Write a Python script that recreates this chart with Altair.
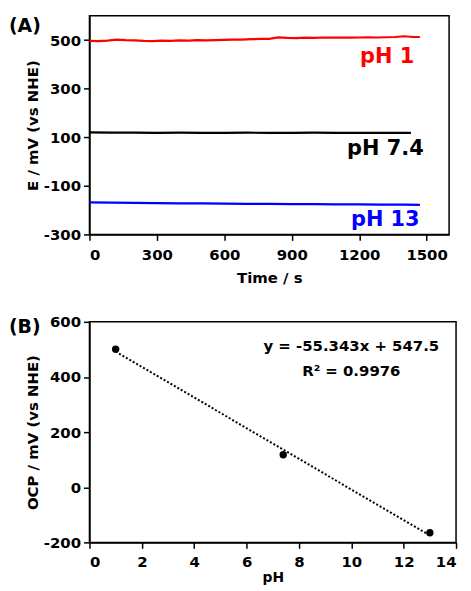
import altair as alt
import pandas as pd

# ---------- Panel A data (OCP vs time) ----------
series_names = ["pH 1", "pH 7.4", "pH 13"]
series_colors = ["#ff0000", "#000000", "#0000ff"]

red_time = [0, 40, 80, 120, 160, 200, 240, 280, 320, 360, 400, 440, 480, 520, 560, 600,
            640, 680, 720, 760, 800, 840, 880, 920, 960, 1000, 1040, 1080, 1120, 1160,
            1200, 1240, 1280, 1320, 1360, 1400, 1440, 1470]
red_E = [497, 496, 498, 502, 500, 499, 497, 496, 498, 497, 499, 498, 500, 499, 500, 501,
         502, 502, 504, 505, 505, 511, 509, 508, 510, 509, 511, 510, 511, 510,
         511, 512, 511, 512, 513, 516, 513, 513]

black_time = [0, 100, 200, 300, 400, 500, 600, 700, 800, 900, 1000, 1100, 1200, 1300, 1400, 1430]
black_E = [120, 119, 119, 118, 119, 118, 118, 119, 118, 118, 119, 118, 118, 118, 118, 118]

blue_time = [0, 100, 200, 300, 400, 500, 600, 700, 800, 900, 1000, 1100, 1200, 1300, 1400, 1470]
blue_E = [-168, -169, -170, -171, -172, -172, -173, -174, -174, -175, -175, -176, -176, -177, -177, -178]

# ---------- Panel B data (OCP vs pH) ----------
ph_values = [1, 7.4, 13]
ocp_values = [501, 118, -165]
fit_text = "y = -55.343x + 547.5"
r2_text = "R\u00b2 = 0.9976"

dfA = pd.concat([
    pd.DataFrame({"time": red_time, "E": red_E, "series": series_names[0]}),
    pd.DataFrame({"time": black_time, "E": black_E, "series": series_names[1]}),
    pd.DataFrame({"time": blue_time, "E": blue_E, "series": series_names[2]}),
])
dfB = pd.DataFrame({"pH": ph_values, "OCP": ocp_values})
one = pd.DataFrame({"k": [0]})

FONT = "DejaVu Sans"

color_scale = alt.Scale(domain=series_names, range=series_colors)
xA = alt.Scale(domain=[0, 1600], nice=False)
yA = alt.Scale(domain=[-300, 600], nice=False)

lines = alt.Chart(dfA).mark_line(strokeWidth=2.2).encode(
    x=alt.X("time:Q", scale=xA,
            axis=alt.Axis(values=list(range(0, 1501, 150)),
                          labelExpr="datum.value % 300 == 0 ? '' + datum.value : ''",
                          title="Time / s", titlePadding=8)),
    y=alt.Y("E:Q", scale=yA,
            axis=alt.Axis(values=list(range(-300, 601, 100)),
                          labelExpr="abs(datum.value) % 200 == 100 ? '' + datum.value : ''",
                          title="E / mV (vs NHE)")),
    color=alt.Color("series:N", scale=color_scale, legend=None),
    detail="series:N",
)

lab_font = dict(font=FONT, fontWeight="bold", fontSize=21, align="right", baseline="middle")
lab1 = alt.Chart(one).mark_text(text=series_names[0], color=series_colors[0], **lab_font).encode(
    x=alt.datum(1445, scale=xA), y=alt.datum(430, scale=yA))
lab2 = alt.Chart(one).mark_text(text=series_names[1], color=series_colors[1], **lab_font).encode(
    x=alt.datum(1487, scale=xA), y=alt.datum(50, scale=yA))
lab3 = alt.Chart(one).mark_text(text=series_names[2], color=series_colors[2], **lab_font).encode(
    x=alt.datum(1469, scale=xA), y=alt.datum(-242, scale=yA))

tagA = alt.Chart(one).mark_text(text="(A)", font=FONT, fontWeight="bold",
                                fontSize=19, align="left", baseline="middle").encode(
    x=alt.value(-81), y=alt.value(10))

panelA = alt.layer(lines, lab1, lab2, lab3, tagA).properties(width=362, height=220)

xB = alt.Scale(domain=[0, 14], nice=False)
yB = alt.Scale(domain=[-200, 600], nice=False)

pts = alt.Chart(dfB).mark_circle(size=55, color="black", opacity=1).encode(
    x=alt.X("pH:Q", scale=xB,
            axis=alt.Axis(values=list(range(0, 15)),
                          labelExpr="datum.value % 2 == 0 ? '' + datum.value : ''",
                          title="pH", titlePadding=1, titleFontSize=14, labelPadding=6)),
    y=alt.Y("OCP:Q", scale=yB,
            axis=alt.Axis(values=list(range(-200, 601, 100)),
                          labelExpr="abs(datum.value) % 200 == 0 ? '' + datum.value : ''",
                          title="OCP / mV (vs NHE)")),
)
fit = alt.Chart(dfB).transform_regression("pH", "OCP", extent=[1, 13]).mark_line(
    color="black", strokeWidth=2, strokeDash=[2, 2]).encode(
    x=alt.X("pH:Q", scale=xB), y=alt.Y("OCP:Q", scale=yB))

ann_font = dict(font=FONT, fontWeight="bold", fontSize=15, align="center", baseline="middle", color="black")
ann1 = alt.Chart(one).mark_text(text=fit_text, **ann_font).encode(
    x=alt.datum(10.0, scale=xB), y=alt.datum(513, scale=yB))
ann2 = alt.Chart(one).mark_text(text=r2_text, **ann_font).encode(
    x=alt.datum(10.0, scale=xB), y=alt.datum(420, scale=yB))

tagB = alt.Chart(one).mark_text(text="(B)", font=FONT, fontWeight="bold",
                                fontSize=19, align="left", baseline="middle").encode(
    x=alt.value(-81), y=alt.value(5))

panelB = alt.layer(fit, pts, ann1, ann2, tagB).properties(width=369, height=222)

chart = alt.vconcat(panelA, panelB, spacing=28).properties(
    padding={"left": 0, "top": 5, "right": 5, "bottom": 0}
).configure_view(
    stroke="black", strokeWidth=1.5
).configure_axis(
    grid=False, domainColor="black", domainWidth=1.5, tickColor="black", tickWidth=1.5,
    tickSize=6, labelColor="black", titleColor="black",
    labelFont=FONT, titleFont=FONT,
    labelFontSize=15, labelFontWeight="bold", titleFontSize=15, titleFontWeight="bold",
    labelPadding=3, titlePadding=3,
).configure_axisX(labelPadding=7)

chart.save("out.html", embed_options={"renderer": "svg", "actions": False})
